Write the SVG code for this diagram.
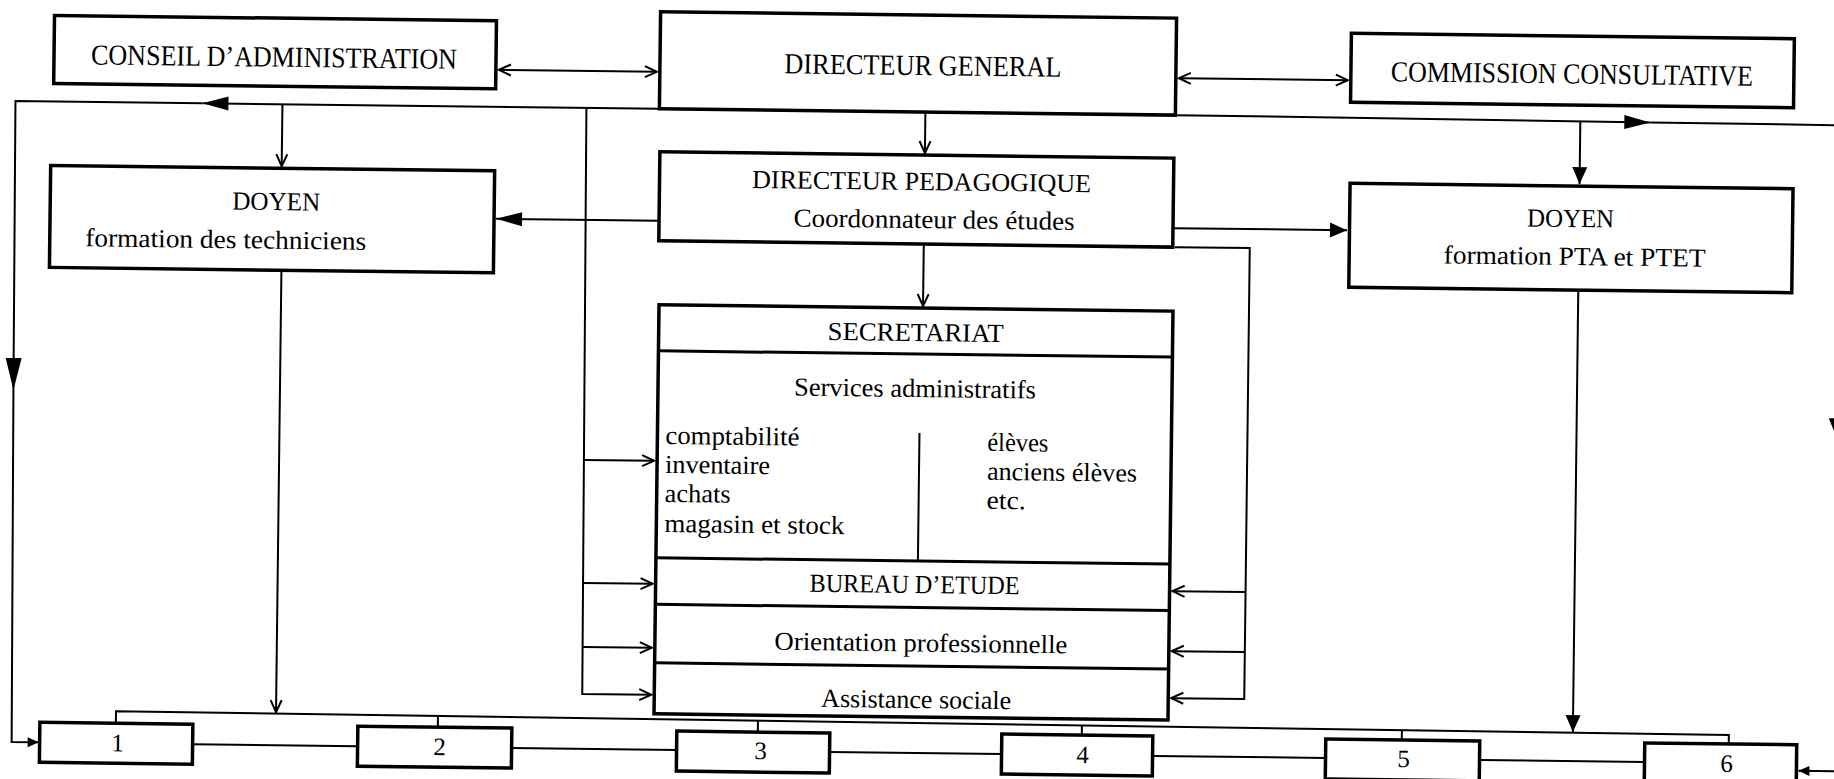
<svg xmlns="http://www.w3.org/2000/svg" width="1834" height="779" viewBox="0 0 1834 779">
<style>
.box{fill:#fff;stroke:#000;stroke-width:3.5}
.ln{fill:none;stroke:#000;stroke-width:2}
.dv{fill:none;stroke:#000;stroke-width:3}
.t{font-family:"Liberation Serif","Times New Roman",serif;fill:#000}
.h{font-size:29px}
.m{font-size:26px}
.s{font-size:25px}
.c{text-anchor:middle}
</style>
<defs>
<marker id="open" markerUnits="userSpaceOnUse" markerWidth="16" markerHeight="14" refX="13" refY="7" orient="auto-start-reverse" overflow="visible">
<path d="M1,1.5 L13,7 L1,12.5" fill="none" stroke="#000" stroke-width="2"/>
</marker>
<marker id="tri" markerUnits="userSpaceOnUse" markerWidth="26" markerHeight="14" refX="26" refY="7" orient="auto" overflow="visible">
<path d="M0,0 L26,7 L0,14 z" fill="#000"/>
</marker>
<marker id="triV" markerUnits="userSpaceOnUse" markerWidth="32" markerHeight="16" refX="32" refY="8" orient="auto" overflow="visible">
<path d="M0,0 L32,8 L0,16 z" fill="#000"/>
</marker>
<marker id="triS" markerUnits="userSpaceOnUse" markerWidth="17" markerHeight="15" refX="17" refY="7.5" orient="auto" overflow="visible">
<path d="M0,0 L17,7.5 L0,15 z" fill="#000"/>
</marker>
<marker id="triXS" markerUnits="userSpaceOnUse" markerWidth="11" markerHeight="10" refX="11" refY="5" orient="auto" overflow="visible">
<path d="M0,0 L11,5 L0,10 z" fill="#000"/>
</marker>
</defs>
<rect width="1834" height="779" fill="#fff"/>
<g transform="rotate(0.7 917 390)">
<g id="connectors">
<path class="ln" d="M495,75 L653,75" marker-start="url(#open)" marker-end="url(#open)"/>
<path class="ln" d="M1175,75 L1344,75" marker-start="url(#open)" marker-end="url(#open)"/>
<path class="ln" d="M656,112 L199,112" marker-end="url(#tri)"/>
<path class="ln" d="M199,112 L12,112 L13.5,401" marker-end="url(#triV)"/>
<path class="ln" d="M13.5,401 L16,753 L43,753" marker-end="url(#triXS)"/>
<path class="ln" d="M1172,112 L1647,113.5" marker-end="url(#tri)"/>
<path class="ln" d="M1647,113.5 L1850,114"/>
<polygon points="1829,407 1841,407 1835,421" fill="#000"/>
<path class="ln" d="M1850,760 L1803,760" marker-end="url(#triXS)"/>
<path class="ln" d="M279,112 L279,174" marker-end="url(#open)"/>
<path class="ln" d="M922,112 L922,153" marker-end="url(#open)"/>
<path class="ln" d="M922,244 L922,306" marker-end="url(#open)"/>
<path class="ln" d="M657,224 L494,224" marker-end="url(#tri)"/>
<path class="ln" d="M1172,225 L1345,225" marker-end="url(#triS)"/>
<path class="ln" d="M1577,113 L1577,176" marker-end="url(#triS)"/>
<path class="ln" d="M280,278 L280,720" marker-end="url(#open)"/>
<path class="ln" d="M1577,282 L1577,724" marker-end="url(#triS)"/>
<path class="ln" d="M583,112 L586,698 L655,698" marker-end="url(#open)"/>
<path class="ln" d="M584.8,464 L655,464" marker-end="url(#open)"/>
<path class="ln" d="M585.5,587 L655,587" marker-end="url(#open)"/>
<path class="ln" d="M585.8,651 L655,651" marker-end="url(#open)"/>
<path class="ln" d="M1173,244 L1248,244 L1248,695 L1175,695" marker-end="url(#open)"/>
<path class="ln" d="M1248,588 L1175,588" marker-end="url(#open)"/>
<path class="ln" d="M1248,648 L1175,648" marker-end="url(#open)"/>
<path class="ln" d="M120,733 L120,721 L1733,725 L1733,734"/>
<path class="ln" d="M442,721.8 L442,733 M762,722.6 L762,734 M1086,723.4 L1086,733 M1406,724.2 L1406,734"/>
<path class="ln" d="M197,753 L362,753 M516,753 L681,753 M834,753 L1006,753 M1157,753 L1330,753 M1484,753 L1649,753"/>
</g>
<g id="n-conseil">
<rect class="box" x="50" y="26" width="442" height="68"/>
<text class="t h c" x="270" y="74.5" textLength="366" lengthAdjust="spacingAndGlyphs">CONSEIL D’ADMINISTRATION</text>
</g>
<g id="n-dg">
<rect class="box" x="656" y="15" width="516" height="97"/>
<text class="t h c" x="919" y="75" textLength="277" lengthAdjust="spacingAndGlyphs">DIRECTEUR GENERAL</text>
</g>
<g id="n-commission">
<rect class="box" x="1347" y="28" width="443" height="69"/>
<text class="t h c" x="1568" y="75.5" textLength="362" lengthAdjust="spacingAndGlyphs">COMMISSION CONSULTATIVE</text>
</g>
<g id="n-doyen-tech">
<rect class="box" x="48" y="176" width="444" height="102"/>
<text class="t m c" x="274" y="218" textLength="88" lengthAdjust="spacingAndGlyphs">DOYEN</text>
<text class="t m c" x="224" y="256.5" textLength="281" lengthAdjust="spacingAndGlyphs">formation des techniciens</text>
</g>
<g id="n-dp">
<rect class="box" x="657" y="155" width="514" height="89"/>
<text class="t m c" x="919" y="190" textLength="339" lengthAdjust="spacingAndGlyphs">DIRECTEUR PEDAGOGIQUE</text>
<text class="t m c" x="932" y="228" textLength="281" lengthAdjust="spacingAndGlyphs">Coordonnateur des études</text>
</g>
<g id="n-doyen-pta">
<rect class="box" x="1347.5" y="178" width="443" height="104"/>
<text class="t m c" x="1568.5" y="219" textLength="87" lengthAdjust="spacingAndGlyphs">DOYEN</text>
<text class="t m c" x="1573" y="257" textLength="262" lengthAdjust="spacingAndGlyphs">formation PTA et PTET</text>
</g>
<g id="n-secretariat">
<rect class="box" x="658" y="308" width="514" height="409"/>
<path class="dv" d="M658,354 L1172,354 M658,561 L1172,561 M658,607.5 L1172,607.5 M658,666 L1172,666"/>
<path class="ln" d="M920,433 L920,561"/>
<text class="t m c" x="915" y="341" textLength="176" lengthAdjust="spacingAndGlyphs">SECRETARIAT</text>
<text class="t m c" x="915" y="397" textLength="242" lengthAdjust="spacingAndGlyphs">Services administratifs</text>
<text class="t m" x="666" y="447" textLength="134" lengthAdjust="spacingAndGlyphs">comptabilité</text>
<text class="t m" x="666" y="476" textLength="105" lengthAdjust="spacingAndGlyphs">inventaire</text>
<text class="t m" x="666" y="505" textLength="66" lengthAdjust="spacingAndGlyphs">achats</text>
<text class="t m" x="666" y="535" textLength="180" lengthAdjust="spacingAndGlyphs">magasin et stock</text>
<text class="t m" x="988" y="450" textLength="61" lengthAdjust="spacingAndGlyphs">élèves</text>
<text class="t m" x="988" y="479" textLength="150" lengthAdjust="spacingAndGlyphs">anciens élèves</text>
<text class="t m" x="988" y="508" textLength="39" lengthAdjust="spacingAndGlyphs">etc.</text>
<text class="t m c" x="917" y="593" textLength="210" lengthAdjust="spacingAndGlyphs">BUREAU D’ETUDE</text>
<text class="t m c" x="924" y="651.5" textLength="293" lengthAdjust="spacingAndGlyphs">Orientation professionnelle</text>
<text class="t m c" x="920" y="708" textLength="190" lengthAdjust="spacingAndGlyphs">Assistance sociale</text>
</g>
<g id="n-box1"><rect class="box" x="44" y="733" width="153" height="40"/><text class="t s c" x="122" y="761">1</text></g>
<g id="n-box2"><rect class="box" x="362" y="733" width="154" height="40"/><text class="t s c" x="444" y="761">2</text></g>
<g id="n-box3"><rect class="box" x="681" y="734" width="153" height="40"/><text class="t s c" x="765" y="761">3</text></g>
<g id="n-box4"><rect class="box" x="1006" y="733" width="151" height="40"/><text class="t s c" x="1087" y="761">4</text></g>
<g id="n-box5"><rect class="box" x="1330" y="734" width="154" height="40"/><text class="t s c" x="1408" y="761">5</text></g>
<g id="n-box6"><rect class="box" x="1649" y="734" width="152" height="40"/><text class="t s c" x="1731" y="762">6</text></g>
</g>
</svg>
